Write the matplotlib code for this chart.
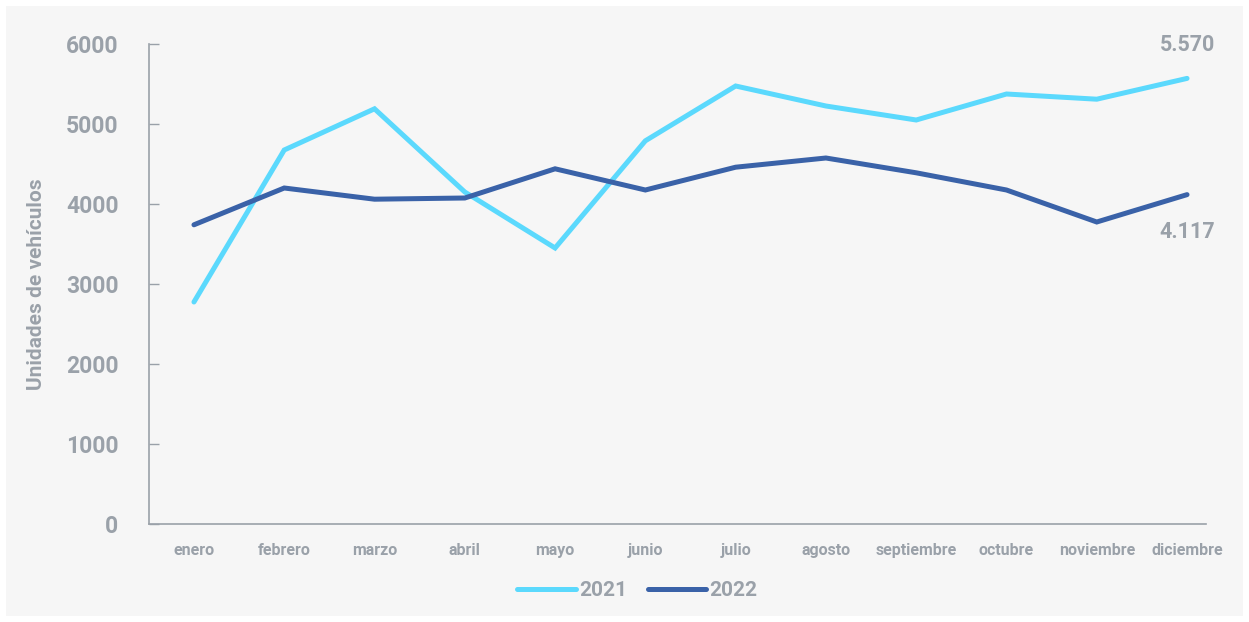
import matplotlib
matplotlib.use("Agg")
import matplotlib.pyplot as plt
from matplotlib.patches import Rectangle

meses = ["enero", "febrero", "marzo", "abril", "mayo", "junio", "julio",
         "agosto", "septiembre", "octubre", "noviembre", "diciembre"]
v2021 = [2775, 4675, 5190, 4150, 3450, 4790, 5475, 5225, 5050, 5375, 5310, 5570]
v2022 = [3740, 4200, 4060, 4075, 4440, 4175, 4460, 4575, 4390, 4175, 3775, 4117]
yticks = [0, 1000, 2000, 3000, 4000, 5000, 6000]

c21 = "#5bd9fd"
c22 = "#3a62a8"
gris = "#9aa1a9"

plt.rcParams["font.family"] = ["Roboto", "DejaVu Sans"]

fig = plt.figure(figsize=(12.49, 6.22), dpi=100)
fig.patch.set_facecolor("white")
fondo = Rectangle((6/1249, 6/622), 1237/1249, 610/622,
                  transform=fig.transFigure, facecolor="#f6f6f6",
                  edgecolor="none", zorder=-10)
fig.add_artist(fondo)

ax = fig.add_axes([149/1249, 1 - 524/622, (1206 - 149)/1249, (524 - 44)/622])
ax.set_facecolor("none")
ax.set_zorder(1)

x = list(range(len(meses)))
ax.plot(x, v2021, color=c21, lw=3.6, solid_capstyle="round", solid_joinstyle="miter", label="2021")
ax.plot(x, v2022, color=c22, lw=3.6, solid_capstyle="round", solid_joinstyle="miter", label="2022")

ax.set_xlim(-0.498, 11.21)
ax.set_ylim(0, 6000)
ax.set_yticks(yticks)
ax.set_yticklabels([str(t) for t in yticks], fontsize=16.5, fontweight="bold", color=gris)
ax.set_xticks(x)
ax.set_xticklabels(meses, fontsize=11.5, fontweight="bold", color=gris)
ax.tick_params(axis="y", direction="in", length=7, width=1, color=gris, pad=22)
ax.tick_params(axis="x", length=0, pad=14)

for s in ["top", "right"]:
    ax.spines[s].set_visible(False)
for s in ["left", "bottom"]:
    ax.spines[s].set_color(gris)
    ax.spines[s].set_linewidth(1.2)

ax.set_ylabel("Unidades de vehículos", fontsize=15, fontweight="bold", color=gris, labelpad=14)

ax.annotate(f"{v2021[-1]:,}".replace(",", "."), (11, v2021[-1]), xytext=(0, 16),
            textcoords="offset points", ha="center", va="bottom",
            fontsize=15.5, fontweight="bold", color=gris)
ax.annotate(f"{v2022[-1]:,}".replace(",", "."), (11, v2022[-1]), xytext=(0, -19),
            textcoords="offset points", ha="center", va="top",
            fontsize=15.5, fontweight="bold", color=gris)

leg = ax.legend(loc="center", bbox_to_anchor=(0.462, -0.139), ncol=2, frameon=False,
                handlelength=2.8, handletextpad=0.15, columnspacing=1.0,
                prop={"size": 15, "weight": "bold"})
for t in leg.get_texts():
    t.set_color(gris)
for h in leg.get_lines():
    h.set_solid_capstyle("round")

fig.savefig("out.png", dpi=100, facecolor="white")
